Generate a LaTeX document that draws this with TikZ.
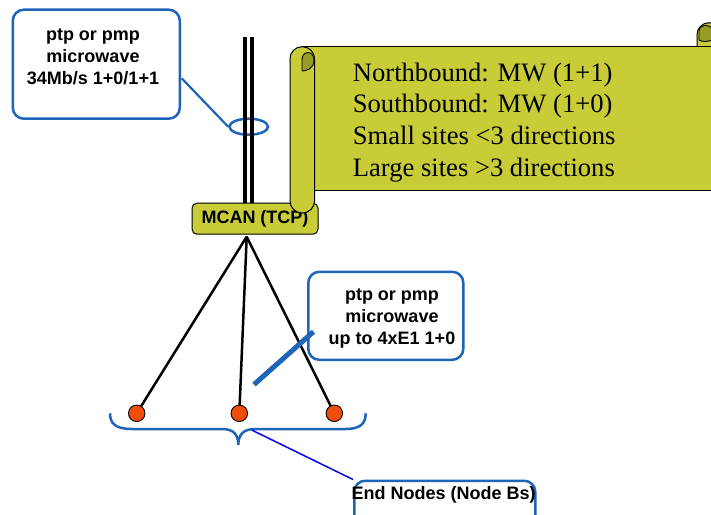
\documentclass[tikz,border=0pt]{standalone}
\usepackage{fontspec}
\setmainfont{Liberation Serif}
\newfontfamily\arialf{Liberation Sans}
\usetikzlibrary{shapes.geometric}
\pgfdeclarelayer{background}
\pgfsetlayers{background,main}
\definecolor{olive}{RGB}{200,205,55}
\definecolor{darkolive}{RGB}{150,156,38}
\definecolor{cblue}{RGB}{30,100,185}
\definecolor{dotred}{RGB}{240,78,10}
\tikzset{
  callout/.style={draw=cblue, line width=2.5pt, rounded corners=11pt, fill=white, inner sep=0pt},
  sanslabel/.style={font=\arialf\bfseries\fontsize{18}{21.7}\selectfont, align=center, inner sep=0pt},
  scrolltext/.style={font=\fontsize{26.6}{31.7}\selectfont, anchor=base west, inner sep=0pt},
  endnode/.style={circle, draw=black, line width=0.9pt, fill=dotred, minimum size=16.5pt, inner sep=0pt},
  link/.style={line width=2.5pt, black},
  scrollline/.style={draw=black, line width=1pt}
}
\begin{document}
\begin{tikzpicture}[x=1pt, y=-1pt]
\useasboundingbox (0,0) rectangle (711,514);
\begin{scope}
\clip (0,0) rectangle (711,514);
% top-left callout
\node[callout, minimum width=167pt, minimum height=109pt] (cb1) at (96.3,64.2) {};
\node[sanslabel] (t1) at (93,57) {ptp or pmp\\microwave\\34Mb/s 1+0/1+1};
\coordinate (c1) at (181.7,78.3);
\node[draw=cblue, line width=2.5pt, ellipse, minimum width=38.6pt, minimum height=16pt, inner sep=0pt] (ring) at (248.7,126.7) {};
\draw[cblue, line width=2.2pt] (c1) -- (ring.west);
% double vertical line
\coordinate (va) at (244.5,37);
\coordinate (vb) at (244.5,204);
\coordinate (wa) at (252,37);
\coordinate (wb) at (252,204);
\draw[line width=4pt] (va) -- (vb);
\draw[line width=4pt] (wa) -- (wb);
% MCAN box
\node[draw=black, line width=1pt, fill=olive, rounded corners=5pt, minimum width=126pt, minimum height=31pt, inner sep=0pt, font=\arialf\bfseries\fontsize{18}{20}\selectfont] (mcan) at (255,218.7) {MCAN (TCP)};
% scroll: right roll
\draw[scrollline, fill=olive, rounded corners=12pt] (697,22.7) rectangle (721,70);
\filldraw[draw=black, line width=0.9pt, fill=darkolive] (699,40) -- (699,31) .. controls (699,24) and (711,23) .. (712,30) -- (712,40) .. controls (708,42) and (702,42) .. (699,40);
% scroll body
\draw[scrollline, fill=olive] (302,46.7) rectangle (725,190);
% left roll
\draw[scrollline, fill=olive, rounded corners=12pt] (290,46.7) rectangle (314.5,213);
\filldraw[draw=black, line width=0.9pt, fill=darkolive] (302,71) -- (302,60) .. controls (302,50) and (314,50) .. (314,60) .. controls (314,69) and (306,71) .. (302,71);
% scroll text
\node[scrolltext] (s1) at (352.7,81) {Northbound: MW (1+1)};
\node[scrolltext] (s2) at (352.7,112.7) {Southbound: MW (1+0)};
\node[scrolltext] (s3) at (352.7,144.7) {Small sites <3 directions};
\node[scrolltext] (s4) at (352.7,176) {Large sites >3 directions};
% star links
\coordinate (apex) at (246.7,236.7);
\node[endnode] (n1) at (136.7,413.3) {};
\node[endnode] (n2) at (239.3,413.3) {};
\node[endnode] (n3) at (334.3,413.3) {};
\begin{pgfonlayer}{background}
\draw[link] (apex) -- (n1.center);
\draw[link] (apex) -- (n2.center);
\draw[link] (apex) -- (n3.center);
\end{pgfonlayer}
% second callout
\node[callout, minimum width=155pt, minimum height=88pt] (cb2) at (385.8,315.8) {};
\node[sanslabel] (t2) at (392,318.3) {ptp or pmp\\microwave\\up to 4xE1 1+0};
\coordinate (c2) at (313.5,331.7);
\coordinate (c2end) at (254,384.5);
\draw[cblue, line width=5pt] (c2) -- (c2end);
% brace
\draw[cblue, line width=2.5pt] (110,413.3) .. controls (110,424) and (116,429) .. (132,429) -- (222,429) .. controls (233,429) and (238.3,434) .. (238.3,445) .. controls (238.3,434) and (244,429) .. (255,429) -- (345,429) .. controls (360,429) and (365.7,424) .. (365.7,413.3);
\coordinate (bp) at (251.7,430);
% end nodes box
\node[callout, minimum width=181pt, minimum height=60pt, anchor=north west] (eb) at (353,479.5) {};
\node[font=\arialf\bfseries\fontsize{18}{20}\selectfont, inner sep=0pt] (et) at (443.7,495) {End Nodes (Node Bs)};
\draw[blue, line width=1.5pt] (bp) -- (eb.north west);
\end{scope}
\end{tikzpicture}
\end{document}
